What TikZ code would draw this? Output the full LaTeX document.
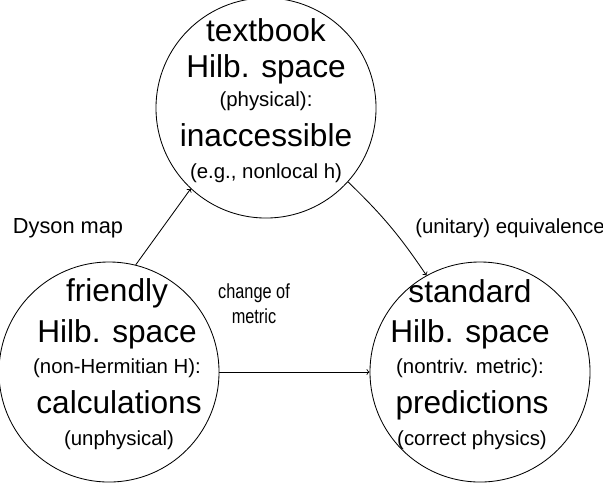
\documentclass[tikz,border=0pt]{standalone}
\usepackage{fontspec}
\setmainfont{Liberation Sans}
\newfontfamily\narrowfont[FakeStretch=0.8]{Liberation Sans}
\usetikzlibrary{positioning}

\begin{document}
\begin{tikzpicture}[x=0.025cm,y=-0.025cm,
  space/.style={draw,circle,line width=0.6pt,minimum size=5.5cm,inner sep=0pt},
  big/.style={font=\fontsize{22.5}{27}\selectfont,anchor=base,inner sep=0pt},
  small/.style={font=\fontsize{14.5}{17}\selectfont,anchor=base,inner sep=0pt},
  lbl/.style={font=\fontsize{14.5}{17}\selectfont,inner sep=0pt},
  link/.style={->,line width=0.6pt}]
\useasboundingbox (0,0) rectangle (603,483);

\node[space] (tb) at (266,108) {};
\node[space] (fr) at (109,372) {};
\node[space] (st) at (480,372) {};

\node[big] (tb1) at (266,41) {textbook};
\node[big] (tb2) at (266,77) {Hilb. space};
\node[small] (tb3) at (266,106) {(physical):};
\node[big] (tb4) at (266,146) {inaccessible};
\node[small] (tb5) at (266,178) {(e.g., nonlocal h)};

\node[big] (fr1) at (117,301) {friendly};
\node[big] (fr2) at (117,342) {Hilb. space};
\node[small] (fr3) at (117,373) {(non-Hermitian H):};
\node[big] (fr4) at (119,413) {calculations};
\node[small] (fr5) at (119,445) {(unphysical)};

\node[big] (st1) at (470,302) {standard};
\node[big] (st2) at (470,342) {Hilb. space};
\node[small] (st3) at (470,373) {(nontriv. metric):};
\node[big] (st4) at (472,413) {predictions};
\node[small] (st5) at (472,445) {(correct physics)};

\draw[link] (fr.76) -- (tb.227);
\draw[link] (tb.318) to[bend left=6] (st.119);
\draw[link] (fr.east) -- (st.west);

\node[lbl,font=\fontsize{15.5}{18}\selectfont] (dyson) at (68,228) {Dyson map};
\node[lbl] (equiv) at (510,228) {(unitary) equivalence};
\node[lbl,font=\fontsize{14.5}{18}\selectfont\narrowfont,align=center] (metric) at (254,304) {change of\\metric};
\end{tikzpicture}
\end{document}
